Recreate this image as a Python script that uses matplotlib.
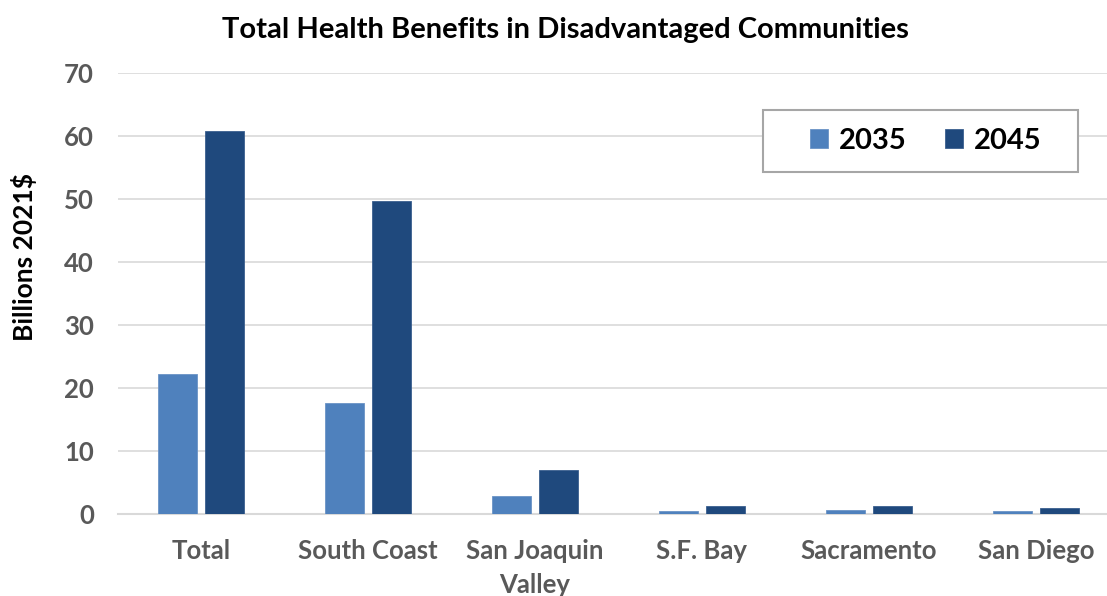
import matplotlib
matplotlib.use("Agg")
import matplotlib.pyplot as plt
from matplotlib.patches import Rectangle
import numpy as np

categories = ["Total", "South Coast", "San Joaquin\nValley", "S.F. Bay", "Sacramento", "San Diego"]
series_names = ["2035", "2045"]
values_2035 = [22.2, 17.6, 2.9, 0.5, 0.7, 0.4]
values_2045 = [60.8, 49.7, 7.0, 1.3, 1.3, 1.0]
yticks = [0, 10, 20, 30, 40, 50, 60, 70]

plt.rcParams['font.family'] = ['Lato', 'DejaVu Sans']

fig = plt.figure(figsize=(11.07, 5.96), dpi=100)
W, H = 1107, 596
left, right, top, bottom = 117.5, 1107, 73, 514
ax = fig.add_axes([left / W, 1 - bottom / H, (right - left) / W, (bottom - top) / H])

x = np.arange(len(categories))
bw = 0.23
c1, c2 = "#4F81BD", "#1F497D"
ax.bar(x - 0.14, values_2035, bw, color=c1, edgecolor="#6b93c6", linewidth=0.6, label=series_names[0], zorder=3)
ax.bar(x + 0.14, values_2045, bw, color=c2, edgecolor="#3b5f8f", linewidth=0.6, label=series_names[1], zorder=3)

ax.set_xlim(-0.5, -0.5 + (right - left) / 167)
ax.set_ylim(0, 70)
ax.set_yticks(yticks)
ax.yaxis.grid(True, color="#d9d9d9", linewidth=1.2, zorder=0)
ax.set_axisbelow(True)
for s in ["top", "right", "left"]:
    ax.spines[s].set_visible(False)
ax.spines["bottom"].set_color("#d9d9d9")
ax.spines["bottom"].set_linewidth(1.5)
ax.tick_params(axis="both", length=0, labelsize=18.5, labelcolor="#595959")
ax.tick_params(axis="x", pad=18)
ax.tick_params(axis="y", pad=17)
ax.set_xticks(x)
ax.set_xticklabels(categories, fontweight="bold", linespacing=1.5)
for lab in ax.get_yticklabels():
    lab.set_fontweight("bold")

fig.text(565 / W, 1 - 30 / H, "Total Health Benefits in Disadvantaged Communities",
         ha="center", va="center", fontsize=21, fontweight="bold", color="black")
fig.text(24 / W, 1 - 257 / H, "Billions 2021$", rotation=90, ha="center", va="center",
         fontsize=19, fontweight="bold", color="black")

# legend frame drawn as rectangle in figure coordinates
rect = Rectangle((763 / W, 1 - 172 / H), (1078 - 763) / W, (172 - 110) / H,
                 transform=fig.transFigure, fill=True, facecolor="white",
                 edgecolor="#a6a6a6", linewidth=1.5, zorder=5, clip_on=False)
ax.add_patch(rect)
leg = ax.legend(loc="center", bbox_to_anchor=((926 - left) / (right - left), 1 - (141 - top) / (bottom - top)),
                ncol=2, prop={"weight": "bold", "size": 21}, frameon=False,
                handlelength=0.6, handleheight=0.6, columnspacing=1.3,
                handletextpad=0.4, borderpad=0.2, borderaxespad=0)
leg.set_zorder(6)
fig.savefig("out.png", dpi=100)
